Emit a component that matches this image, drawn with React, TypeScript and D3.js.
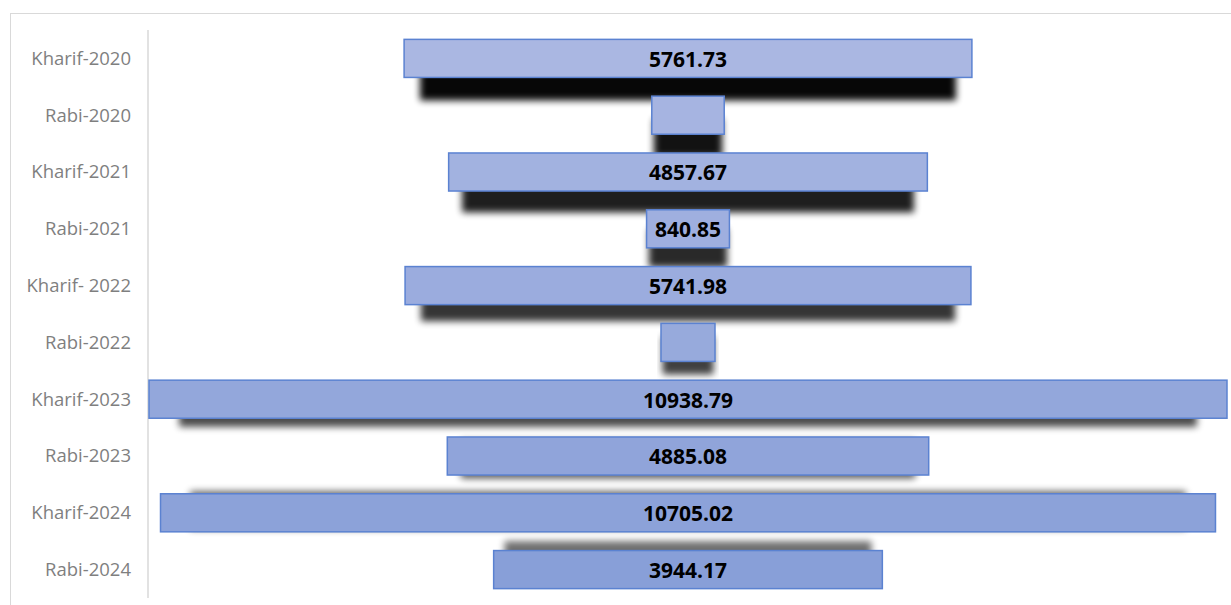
import React, { useEffect, useRef } from 'react';
import * as d3 from 'd3';

const seasons = [
  'Kharif-2020',
  'Rabi-2020',
  'Kharif-2021',
  'Rabi-2021',
  'Kharif- 2022',
  'Rabi-2022',
  'Kharif-2023',
  'Rabi-2023',
  'Kharif-2024',
  'Rabi-2024',
];
const amounts = [5761.73, 735, 4857.67, 840.85, 5741.98, 548, 10938.79, 4885.08, 10705.02, 3944.17];

const W = 1231;
const H = 605;

export default function App() {
  const ref = useRef<SVGSVGElement>(null);

  useEffect(() => {
    document.body.style.margin = '0';
    const svg = d3.select(ref.current);
    svg.selectAll('*').remove();

    const left = 149;
    const right = 1227;
    const mid = (left + right) / 2;

    const x = d3
      .scaleLinear()
      .domain([0, d3.max(amounts) as number])
      .range([0, right - left]);

    const y = d3
      .scaleBand<string>()
      .domain(seasons)
      .range([30, 598])
      .paddingInner(0.33)
      .paddingOuter(0.165);

    const fill = d3.interpolateRgb('#aab7e2', '#889fd8');

    const defs = svg.append('defs');
    defs
      .append('filter')
      .attr('id', 'blur')
      .attr('x', '-10%')
      .attr('y', '-60%')
      .attr('width', '120%')
      .attr('height', '220%')
      .append('feGaussianBlur')
      .attr('stdDeviation', 3.5);

    // outer frame, cut off by the picture edge
    svg
      .append('rect')
      .attr('x', 10.5)
      .attr('y', 13.5)
      .attr('width', 1300)
      .attr('height', 700)
      .attr('fill', 'none')
      .attr('stroke', '#d9d9d9');

    // category axis line
    svg
      .append('line')
      .attr('x1', 148)
      .attr('x2', 148)
      .attr('y1', 30)
      .attr('y2', 598)
      .attr('stroke', '#d9d9d9')
      .attr('stroke-width', 1.5);

    svg
      .append('g')
      .selectAll('text')
      .data(seasons)
      .enter()
      .append('text')
      .attr('x', 131)
      .attr('y', (d) => (y(d) as number) + y.bandwidth() / 2)
      .attr('dy', '0.35em')
      .attr('text-anchor', 'end')
      .attr('font-family', 'Open Sans, sans-serif')
      .attr('font-size', 18.5)
      .attr('fill', '#7f7f7f')
      .text((d) => d);

    const n = seasons.length;

    // perspective shadows
    svg
      .append('g')
      .selectAll('rect')
      .data(amounts)
      .enter()
      .append('rect')
      .attr('x', (d) => mid - (x(d) * 0.944) / 2)
      .attr('width', (d) => x(d) * 0.944)
      .attr('y', (d, i) => (y(seasons[i]) as number) + 23 - 0.4 * i * i)
      .attr('height', y.bandwidth())
      .attr('fill', '#000')
      .attr('opacity', (d, i) => 0.97 - 0.045 * i)
      .attr('filter', 'url(#blur)');

    const bars = svg
      .append('g')
      .selectAll('g')
      .data(amounts)
      .enter()
      .append('g');

    bars
      .append('rect')
      .attr('x', (d) => mid - x(d) / 2)
      .attr('width', (d) => x(d))
      .attr('y', (d, i) => y(seasons[i]) as number)
      .attr('height', y.bandwidth())
      .attr('fill', (d, i) => fill(i / (n - 1)))
      .attr('stroke', '#5b82d1')
      .attr('stroke-width', 1.5);

    bars
      .filter((d) => x(d) >= 80)
      .append('text')
      .attr('x', mid)
      .attr('y', (d) => {
        const idx = amounts.indexOf(d);
        return (y(seasons[idx]) as number) + y.bandwidth() / 2;
      })
      .attr('dy', '0.4em')
      .attr('text-anchor', 'middle')
      .attr('font-family', 'Open Sans, sans-serif')
      .attr('font-weight', 'bold')
      .attr('font-size', 21)
      .attr('fill', '#000')
      .text((d) => d.toFixed(2));
  }, []);

  return <svg ref={ref} width={W} height={H} style={{ display: 'block', background: '#fff' }} />;
}
